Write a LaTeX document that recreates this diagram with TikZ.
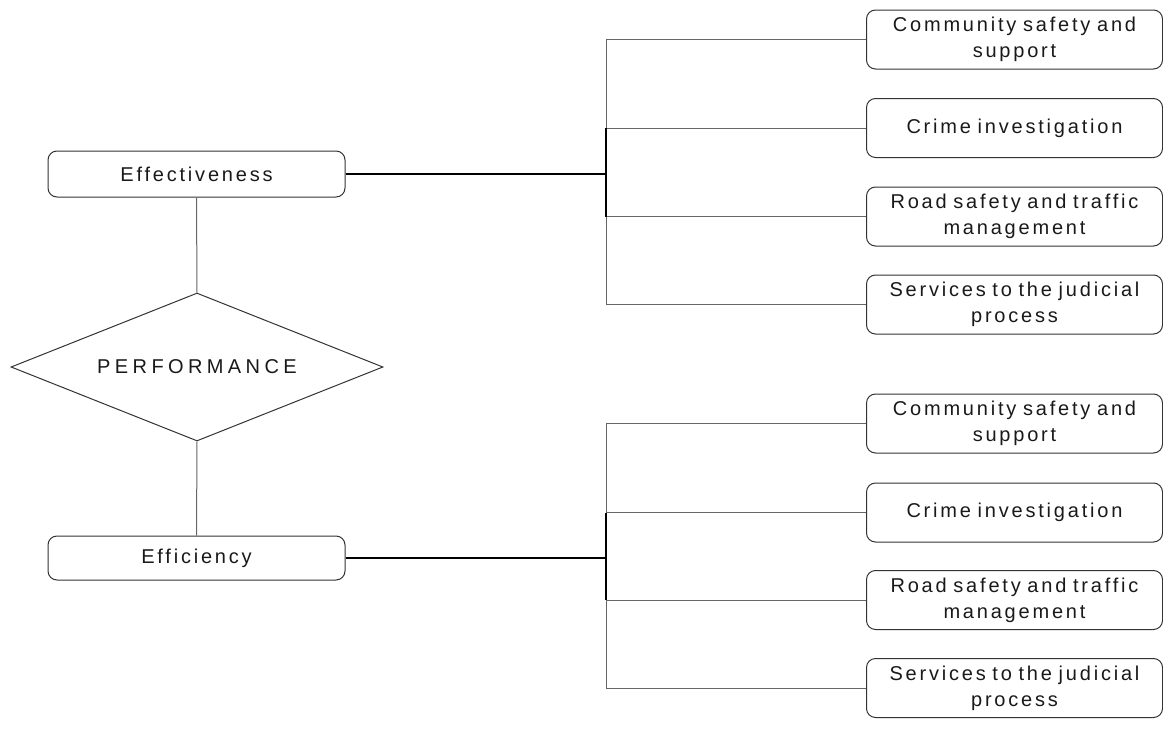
\documentclass[tikz,border=0pt]{standalone}
\usepackage{fontspec}
\setmainfont{Liberation Sans}[LetterSpace=14,WordSpace=2.4]
\usetikzlibrary{shapes.geometric}
\definecolor{edge}{HTML}{333333}
\definecolor{wire}{HTML}{666666}
\begin{document}
\begin{tikzpicture}[x=1pt,y=-1pt,
  every node/.style={font=\fontsize{20}{26}\selectfont, text=black!90},
  leftbox/.style={draw=edge, line width=1pt, rounded corners=9pt, minimum width=297pt, minimum height=46pt, inner sep=0pt, align=center},
  rightbox/.style={draw=edge, line width=1pt, rounded corners=9pt, minimum width=296pt, minimum height=59pt, inner sep=0pt, align=center, text width=294pt},
  perf/.style={draw=edge, line width=1pt, diamond, minimum width=372pt, minimum height=148pt, inner sep=0pt, aspect=2.5},
  thinwire/.style={draw=wire, line width=1pt},
  thickwire/.style={draw=black, line width=2pt}
]
\useasboundingbox (0,0) rectangle (1163,731);
\node[perf] (perf) at (197,367) {\addfontfeature{LetterSpace=22}PERFORMANCE};
\node[leftbox] (eff) at (196.5,174) {Effectiveness};
\node[leftbox, minimum height=44pt] (effi) at (196.5,558) {Efficiency};

\node[rightbox] (a1) at (1014.5,39.5) {Community safety and\\support};
\node[rightbox] (a2) at (1014.5,128) {Crime investigation};
\node[rightbox] (a3) at (1014.5,216.5) {Road safety and traffic\\management};
\node[rightbox] (a4) at (1014.5,304.5) {Services to the judicial\\process};

\node[rightbox] (b1) at (1014.5,423.5) {Community safety and\\support};
\node[rightbox] (b2) at (1014.5,512.5) {Crime investigation};
\node[rightbox] (b3) at (1014.5,600) {Road safety and traffic\\management};
\node[rightbox] (b4) at (1014.5,688) {Services to the judicial\\process};

\coordinate (ja) at (606,174);
\coordinate (jb) at (606,558);

\draw[thinwire] (eff.south) -- (perf.north);
\draw[thinwire] (perf.south) -- (effi.north);

\foreach \n in {a1,a2,a3,a4} \draw[thinwire] (\n.west) -| (ja);
\foreach \n in {b1,b2,b3,b4} \draw[thinwire] (\n.west) -| (jb);

\draw[thickwire] (ja |- a2.west) -- (ja |- a3.west);
\draw[thickwire] (jb |- b2.west) -- (jb |- b3.west);
\draw[thickwire] (eff.east) -- (ja);
\draw[thickwire] (effi.east) -- (jb);
\end{tikzpicture}
\end{document}
